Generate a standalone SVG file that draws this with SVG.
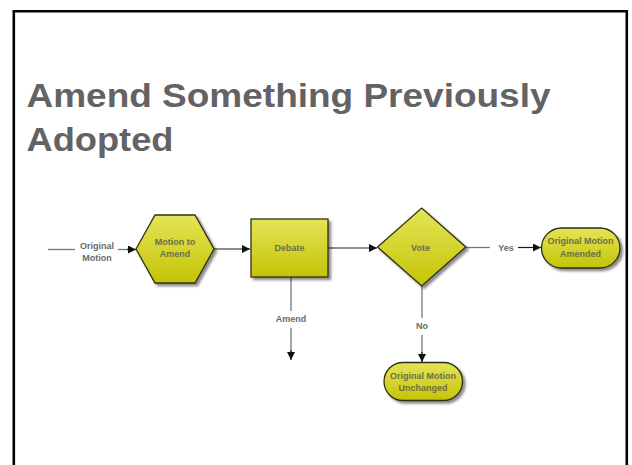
<svg xmlns="http://www.w3.org/2000/svg" width="632" height="465" viewBox="0 0 632 465">
<defs>
<linearGradient id="yg" x1="0" y1="0" x2="0" y2="1">
<stop offset="0" stop-color="#e4e458"/>
<stop offset="1" stop-color="#c4c406"/>
</linearGradient>
<filter id="sh" x="-20%" y="-20%" width="150%" height="150%">
<feDropShadow dx="2.5" dy="2.5" stdDeviation="1.2" flood-color="#000" flood-opacity="0.45"/>
</filter>
<marker id="ah" viewBox="0 0 10 10" refX="10" refY="5" markerWidth="8" markerHeight="8" markerUnits="userSpaceOnUse" orient="auto">
<path d="M0,0 L10,5 L0,10 Z" fill="#111"/>
</marker>
</defs>
<style>
.title{font-family:"Liberation Sans",Arial,sans-serif;font-weight:bold;font-size:33px;fill:#636363}
.nt{font-family:"Liberation Sans",Arial,sans-serif;font-weight:bold;font-size:9px;fill:#6e6e48;text-anchor:middle}
.lt{font-family:"Liberation Sans",Arial,sans-serif;font-weight:bold;font-size:9px;fill:#6a6a6a;text-anchor:middle}
.shape{fill:url(#yg);stroke:#2f2f14;stroke-width:1.3;filter:url(#sh)}
.ln{fill:none;stroke:#777;stroke-width:1.3}
.lk{fill:none;stroke:#1a1a1a;stroke-width:1.2}
</style>
<rect width="632" height="465" fill="#fff"/>
<path d="M13.8,465 V11.3 H626.8 V465" fill="none" stroke="#000" stroke-width="2.6"/>
<g id="title">
<text class="title" x="26.5" y="107" textLength="524" lengthAdjust="spacingAndGlyphs">Amend Something Previously</text>
<text class="title" x="26.5" y="151" textLength="147" lengthAdjust="spacingAndGlyphs">Adopted</text>
</g>
<g id="connectors">
<path class="ln" d="M48,249.5 H75"/>
<text class="lt" x="97" y="248.5">Original</text>
<text class="lt" x="97" y="260.5">Motion</text>
<path class="ln" d="M118,249.5 H128"/>
<path class="lk" d="M127,249.5 H136" marker-end="url(#ah)"/>
<path class="lk" d="M214,249 H250" marker-end="url(#ah)"/>
<path class="lk" d="M328,248 H377" marker-end="url(#ah)"/>
<path class="ln" d="M466,247.5 H490"/>
<text class="lt" x="506" y="250.5">Yes</text>
<path class="lk" d="M518,247.5 H541" marker-end="url(#ah)"/>
<path class="ln" d="M291,277 V311"/>
<text class="lt" x="291" y="322">Amend</text>
<path class="ln" d="M291,328 V352"/>
<path class="lk" d="M291,350 V360" marker-end="url(#ah)"/>
<path class="ln" d="M422,286 V318"/>
<text class="lt" x="422" y="329">No</text>
<path class="ln" d="M422,335 V354"/>
<path class="lk" d="M422,352 V362" marker-end="url(#ah)"/>
</g>
<g id="motion-to-amend">
<polygon class="shape" points="136,249 155,215 195,215 214,249 195,283 155,283"/>
<text class="nt" x="175" y="244.5">Motion to</text>
<text class="nt" x="175" y="256.5">Amend</text>
</g>
<g id="debate">
<rect class="shape" x="251" y="219" width="77" height="58"/>
<text class="nt" x="289.5" y="251">Debate</text>
</g>
<g id="vote">
<polygon class="shape" points="377.5,247 421.7,208 465.8,247 421.7,286"/>
<text class="nt" x="420.5" y="251">Vote</text>
</g>
<g id="original-motion-amended">
<rect class="shape" x="541.5" y="228" width="78.5" height="40" rx="20" ry="20"/>
<text class="nt" x="580.5" y="244">Original Motion</text>
<text class="nt" x="580.5" y="256.5">Amended</text>
</g>
<g id="original-motion-unchanged">
<rect class="shape" x="384" y="362.5" width="78.5" height="38" rx="19" ry="19"/>
<text class="nt" x="423" y="379">Original Motion</text>
<text class="nt" x="423" y="391">Unchanged</text>
</g>
</svg>
